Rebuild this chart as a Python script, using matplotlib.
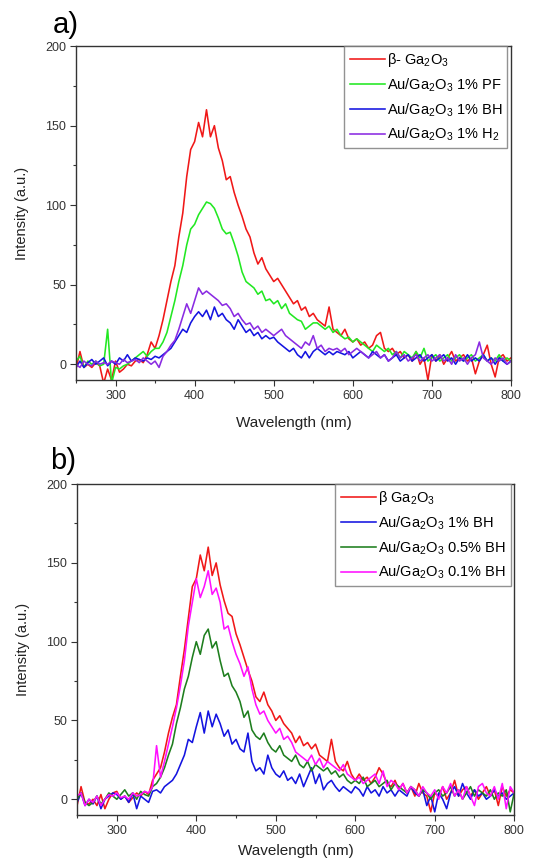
import numpy as np
import matplotlib
matplotlib.use("Agg")
import matplotlib.pyplot as plt
from matplotlib.ticker import MultipleLocator

plt.rcParams['font.family'] = ['Liberation Sans', 'DejaVu Sans']
plt.rcParams['mathtext.fontset'] = 'custom'
plt.rcParams['mathtext.rm'] = 'Liberation Sans'
plt.rcParams['mathtext.it'] = 'Liberation Sans:italic'

wavelength = np.arange(250, 801, 5)

# Panel a
a_beta = [-3, 8, -2, 0, -2, 1, -1, -12, -3, -10, 2, -5, -3, 0, -1, 2, 3, 1, 6, 14,
          10, 18, 28, 40, 52, 62, 80, 95, 118, 135, 140, 152, 143, 160, 143, 150, 136, 128, 116, 118,
          108, 100, 93, 85, 80, 70, 63, 67, 60, 56, 52, 54, 50, 46, 42, 38, 40, 34, 36, 30,
          32, 28, 26, 24, 36, 22, 20, 18, 22, 16, 14, 16, 12, 14, 10, 12, 18, 20, 10, 8,
          10, 6, 8, 4, 6, 2, 8, 0, 4, -10, 6, 2, 6, 0, 4, 8, 2, 4, 6, 2,
          4, -6, 2, 6, 12, 0, -8, 4, 6, 2, 4]
a_pf = [2, 5, -2, 2, 0, 2, -1, 0, 22, -12, -2, -3, -1, 0, 2, 4, 6, 8, 5, 8,
        10, 10, 14, 20, 30, 40, 52, 62, 75, 85, 88, 94, 98, 102, 101, 98, 92, 85, 82, 83,
        76, 68, 58, 52, 50, 48, 44, 46, 40, 41, 38, 40, 35, 38, 32, 30, 28, 27, 22, 24,
        26, 26, 24, 22, 24, 20, 22, 18, 16, 17, 14, 16, 14, 12, 10, 8, 12, 10, 8, 10,
        6, 8, 4, 8, 6, 4, 8, 4, 10, 2, 4, 6, 2, 4, 6, 2, 4, 6, 2, 4,
        6, 2, 4, 6, 2, 4, 2, 6, 2, 4, 2]
a_bh = [-2, 2, -2, 1, 3, 0, 2, 4, -1, 2, 0, 4, 2, 6, 2, 4, 3, 2, 4, 3,
        5, 4, 6, 8, 10, 14, 18, 22, 20, 26, 30, 33, 30, 34, 28, 36, 30, 32, 28, 26,
        22, 28, 24, 20, 22, 18, 20, 16, 18, 16, 17, 14, 12, 10, 8, 10, 6, 4, 8, 4,
        8, 10, 8, 6, 8, 6, 8, 7, 6, 8, 4, 6, 8, 6, 4, 8, 6, 4, 6, 2,
        4, 6, 2, 4, 6, 2, 4, 6, 2, 4, 6, 2, 4, 6, 2, 4, 0, 4, 2, 6,
        2, 4, 2, 6, 2, 4, 0, 4, 2, 0, 2]
a_h2 = [0, -2, 2, 0, -1, 2, 0, 1, 0, 2, 1, 0, 3, 1, 2, 3, 1, 4, 2, 0,
        2, -2, 5, 8, 12, 15, 22, 30, 38, 32, 40, 48, 44, 46, 44, 42, 40, 37, 38, 35,
        30, 32, 28, 25, 26, 22, 24, 20, 22, 20, 18, 20, 22, 18, 16, 14, 12, 10, 14, 12,
        18, 10, 12, 8, 10, 9, 10, 8, 10, 6, 8, 10, 8, 6, 4, 6, 8, 4, 6, 2,
        4, 8, 4, 6, 2, 4, 6, 2, 4, 6, 2, 4, 6, 2, 4, 0, 6, 2, 4, 0,
        4, 6, 14, 4, 2, 0, 4, 2, 4, 0, 2]

# Panel b
b_beta = [-4, 8, -2, -3, 0, -4, 3, -6, 0, 4, 5, 0, 2, -2, 1, 4, 2, 5, 3, 12,
          16, 20, 30, 42, 52, 60, 78, 95, 115, 135, 140, 155, 145, 160, 142, 150, 136, 126, 118, 116,
          105, 98, 90, 82, 75, 65, 62, 68, 60, 56, 50, 53, 48, 45, 42, 36, 40, 34, 36, 32,
          35, 28, 26, 24, 38, 24, 20, 18, 24, 16, 12, 16, 12, 14, 10, 14, 20, 16, 10, 8,
          12, 6, 10, 4, 8, 2, 10, 4, 2, -8, 4, 2, 8, 0, 4, 12, 2, 6, 8, 2,
          6, 0, 4, 8, 2, 6, -4, 8, 2, 6, 4]
b_bh1 = [-2, 4, -4, 0, -3, 2, -6, 0, 2, 4, 3, 0, 2, -2, 4, -6, 2, 0, -2, 5,
         6, 4, 8, 10, 12, 16, 22, 28, 38, 36, 46, 55, 42, 56, 46, 54, 48, 40, 44, 35,
         38, 32, 30, 42, 24, 18, 20, 16, 28, 20, 16, 14, 18, 12, 14, 10, 16, 8, 14, 20,
         10, 16, 6, 10, 12, 8, 5, 8, 6, 4, 8, 6, 2, 8, 4, 6, 2, 8, 4, 6,
         2, 6, 4, 2, 8, 4, 2, 6, -4, 2, -8, 4, 0, -6, 4, 8, 2, 10, 4, 0,
         6, 2, 4, 0, 2, 6, 2, 4, 0, 2, 4]
b_bh05 = [0, 4, -2, -4, -2, 2, -3, 0, 4, 2, 0, 3, 6, 2, 4, 0, 5, 3, 2, 8,
          10, 14, 20, 28, 35, 48, 58, 70, 78, 90, 100, 92, 104, 108, 96, 100, 88, 78, 80, 72,
          68, 62, 52, 56, 44, 40, 38, 42, 36, 32, 30, 34, 28, 26, 24, 28, 22, 20, 24, 18,
          22, 20, 18, 20, 16, 18, 14, 16, 12, 10, 12, 10, 14, 8, 10, 12, 8, 10, 12, 6,
          10, 8, 6, 4, 8, 6, 2, 6, 4, 0, 4, 6, 2, 4, 8, 2, 6, 0, 4, 8,
          2, 6, 4, 2, 6, 0, 4, 2, 6, -8, 4]
b_bh01 = [2, 4, -4, 0, -2, 2, -4, 0, 3, 2, 4, 1, 2, 0, 4, 2, 3, 5, 4, 8,
          34, 14, 24, 35, 46, 58, 72, 88, 110, 125, 140, 128, 135, 145, 130, 134, 125, 108, 110, 100,
          92, 86, 78, 84, 70, 60, 54, 56, 50, 46, 42, 45, 38, 40, 36, 30, 28, 26, 24, 28,
          22, 26, 20, 24, 22, 20, 18, 22, 16, 14, 12, 14, 10, 12, 14, 16, 10, 18, 8, 12,
          10, 6, 10, 4, 8, 6, 2, 8, 4, 2, 6, 0, 8, 4, 10, 2, 6, 0, 8, 2,
          -4, 8, 10, 4, 2, 8, 0, 10, -6, 8, 4]

labels_a = ['β- Ga$_2$O$_3$', 'Au/Ga$_2$O$_3$ 1% PF',
            'Au/Ga$_2$O$_3$ 1% BH', 'Au/Ga$_2$O$_3$ 1% H$_2$']
labels_b = ['β Ga$_2$O$_3$', 'Au/Ga$_2$O$_3$ 1% BH',
            'Au/Ga$_2$O$_3$ 0.5% BH', 'Au/Ga$_2$O$_3$ 0.1% BH']
colors_a = ['#f01818', '#22e822', '#1414e0', '#8a2be2']
colors_b = ['#f01818', '#1414e0', '#1e7e1e', '#ff10ff']

fig = plt.figure(figsize=(5.39, 8.64), dpi=100)
ax_a = fig.add_axes([0.141, 0.560, 0.807, 0.3866])
ax_b = fig.add_axes([0.143, 0.0567, 0.811, 0.383])

def style(ax, series, labels, colors, xpad):
    for y, lab, c in zip(series, labels, colors):
        ax.plot(wavelength, y, color=c, lw=1.15, label=lab)
    ax.set_xlim(250, 800)
    ax.set_ylim(-10, 200)
    ax.xaxis.set_major_locator(MultipleLocator(100))
    ax.xaxis.set_minor_locator(MultipleLocator(50))
    ax.yaxis.set_major_locator(MultipleLocator(50))
    ax.yaxis.set_minor_locator(MultipleLocator(25))
    ax.tick_params(which='major', direction='out', length=4, width=0.8, labelsize=9,
                   colors='#333333', pad=3)
    ax.tick_params(which='minor', direction='out', length=2.5, width=0.8, colors='#333333')
    for s in ax.spines.values():
        s.set_linewidth(1.0)
        s.set_color('#333333')
    ax.set_xlabel('Wavelength (nm)', fontsize=11, labelpad=xpad, color='#222222')
    ax.set_ylabel('Intensity (a.u.)', fontsize=10.5, labelpad=12, color='#222222')
    leg = ax.legend(loc='upper right', bbox_to_anchor=(0.992, 1.0), fontsize=10.5,
                    frameon=True, fancybox=False, handlelength=2.4, handletextpad=0.15,
                    borderaxespad=0.0, labelspacing=0.5, borderpad=0.35)
    leg.get_frame().set_edgecolor('#777777')
    leg.get_frame().set_linewidth(1.0)

style(ax_a, [a_beta, a_pf, a_bh, a_h2], labels_a, colors_a, 10)
style(ax_b, [b_beta, b_bh1, b_bh05, b_bh01], labels_b, colors_b, 5)

fig.text(53 / 539, 1 - 33 / 864, 'a)', fontsize=21)
fig.text(50 / 539, 1 - 469 / 864, 'b)', fontsize=21)

fig.savefig('out.png', dpi=100)
